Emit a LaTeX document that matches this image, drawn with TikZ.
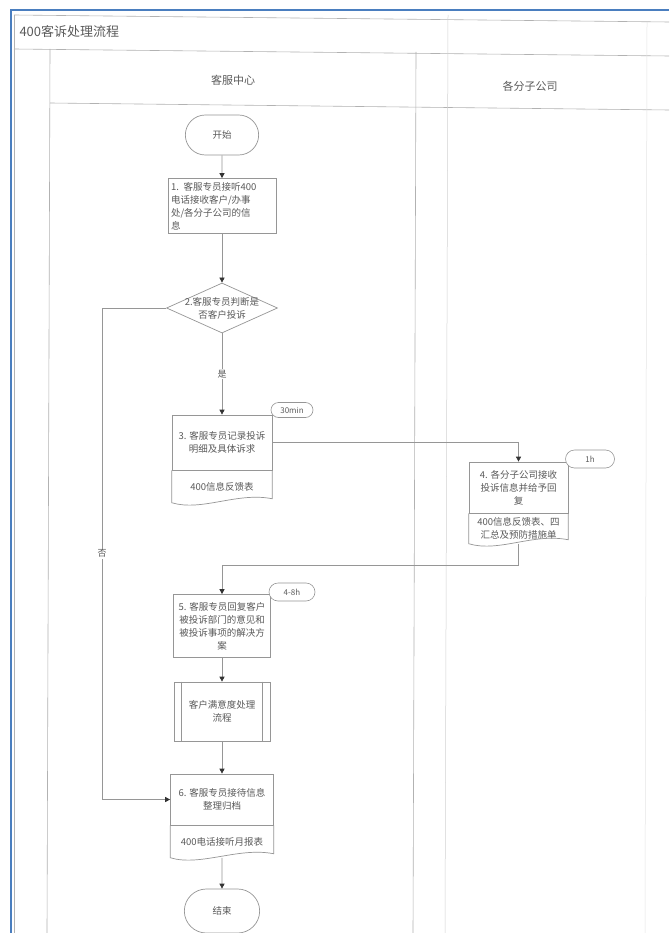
\documentclass[tikz,border=0pt]{standalone}
\usepackage{fontspec}
\setmainfont{Noto Sans CJK SC}
\usetikzlibrary{shapes.geometric,shapes.misc,arrows.meta}
\definecolor{linegray}{RGB}{150,150,150}
\definecolor{inkgray}{RGB}{90,90,90}
\definecolor{screenblue}{RGB}{74,126,191}
\begin{document}
\begin{tikzpicture}[x=1pt,y=-1pt,
  every node/.style={text=inkgray},
  flowline/.style={draw=linegray, line width=.7pt},
  arrowline/.style={flowline, -{Triangle[length=5pt,width=5pt,color=black!80]}},
  boxtext/.style={font=\fontsize{9.5}{13}\selectfont},
  terminal/.style={rounded rectangle, flowline, boxtext, minimum width=80pt, minimum height=40pt},
  stepbox/.style={rectangle, flowline, boxtext, align=center, inner sep=2pt},
  docpart/.style={rectangle, boxtext, align=center, inner sep=2pt, anchor=north},
  decision/.style={diamond, flowline, minimum width=111pt, minimum height=50pt, inner sep=0pt},
  timetag/.style={rounded rectangle, draw=linegray, line width=.6pt, fill=white, font=\fontsize{8}{9}\selectfont, inner sep=1pt, minimum height=15pt},
  branchtext/.style={fill=white, inner sep=1pt, font=\fontsize{9}{10}\selectfont},
  lane/.style={draw=black!30, line width=.6pt}]
\useasboundingbox (0,0) rectangle (669,933);
\fill[white] (0,0) rectangle (669,933);

\draw[lane] (14,15) -- (669,22);
\draw[lane] (14,49) -- (669,56);
\draw[lane] (50,103) -- (669,110);
\draw[lane] (14,15) -- (14,933);
\draw[lane] (50,49) -- (47,933);
\draw[lane] (416,52) -- (413,933);
\draw[draw=black!18, line width=.5pt] (448,15) -- (445,933);
\draw[draw=black!10, line width=.5pt] (647,22) -- (645,933);
\draw[screenblue, line width=2.5pt] (11,933) -- (11,10) -- (669,10);

\node[anchor=west, font=\fontsize{13}{14}\selectfont] (title) at (16,32) {400客诉处理流程};
\node[font=\fontsize{11}{12}\selectfont] (lanecs) at (233,80) {客服中心};
\node[font=\fontsize{11}{12}\selectfont] (lanebr) at (530,86) {各分子公司};

\node[terminal] (start) at (222,135) {开始};
\node[stepbox, align=left, minimum width=108pt, minimum height=55pt, text width=102pt] (s1) at (222,206) {1. 客服专员接听400\\电话接收客户/办事\\处/各分子公司的信\\息};
\node[decision] (dec) at (222,308) {};
\node[boxtext, align=center] (dectext) at (222,308) {2.客服专员判断是\\否客户投诉};

\node[stepbox, minimum width=100pt, minimum height=55pt] (s3) at (222,442.5) {3. 客服专员记录投诉\\明细及具体诉求};
\node[docpart, minimum width=100pt, minimum height=32pt] (s3doc) at (s3.south) {400信息反馈表};
\draw[flowline] (s3doc.north west) -- (s3doc.south west) .. controls +(30,9) and +(-35,-7) .. ([yshift=4pt]s3doc.south east) -- (s3doc.north east);
\node[timetag, minimum width=44pt] (tag30) at (292,410) {30min};

\node[stepbox, minimum width=99pt, minimum height=51pt] (s4) at (518.5,487.5) {4. 各分子公司接收\\投诉信息并给予回\\复};
\node[docpart, minimum width=99pt, minimum height=30pt] (s4doc) at (s4.south) {400信息反馈表、四\\汇总及预防措施单};
\draw[flowline] (s4doc.north west) -- (s4doc.south west) .. controls +(30,9) and +(-35,-7) .. ([yshift=4pt]s4doc.south east) -- (s4doc.north east);
\node[timetag, minimum width=51pt, minimum height=18pt] (tag1h) at (590,459) {1h};

\node[stepbox, minimum width=97pt, minimum height=63pt] (s5) at (222,626) {5. 客服专员回复客户\\被投诉部门的意见和\\被投诉事项的解决方\\案};
\node[timetag, minimum width=48pt, minimum height=18pt] (tag48) at (292,592) {4-8h};

\node[stepbox, minimum width=96pt, minimum height=59pt] (sat) at (222,711.5) {客户满意度处理\\流程};
\draw[flowline] ([xshift=8pt]sat.north west) -- ([xshift=8pt]sat.south west);
\draw[flowline] ([xshift=-8pt]sat.north east) -- ([xshift=-8pt]sat.south east);

\node[stepbox, minimum width=103pt, minimum height=51pt] (s6) at (222,799.5) {6. 客服专员接待信息\\整理归档};
\node[docpart, minimum width=103pt, minimum height=32pt] (s6doc) at (s6.south) {400电话接听月报表};
\draw[flowline] (s6doc.north west) -- (s6doc.south west) .. controls +(30,9) and +(-35,-7) .. ([yshift=4pt]s6doc.south east) -- (s6doc.north east);

\node[terminal, minimum width=82pt, minimum height=44pt] (end) at (222,911) {结束};

\draw[arrowline] (start) -- (s1);
\draw[arrowline] (s1) -- (dec);
\draw[arrowline] (dec) -- node[branchtext]{是} (s3);
\draw[arrowline] (s3.east) -| (s4.north);
\draw[arrowline] (s4doc.south) -- ++(0,22) -| (s5.north);
\draw[arrowline] (s5) -- (sat);
\draw[arrowline] (sat) -- (s6);
\draw[arrowline] (s6doc.south) -- (end);
\draw[arrowline] (dec.west) -- ++(-64,0) |- node[pos=.25, branchtext]{否} (s6.west);
\end{tikzpicture}
\end{document}
